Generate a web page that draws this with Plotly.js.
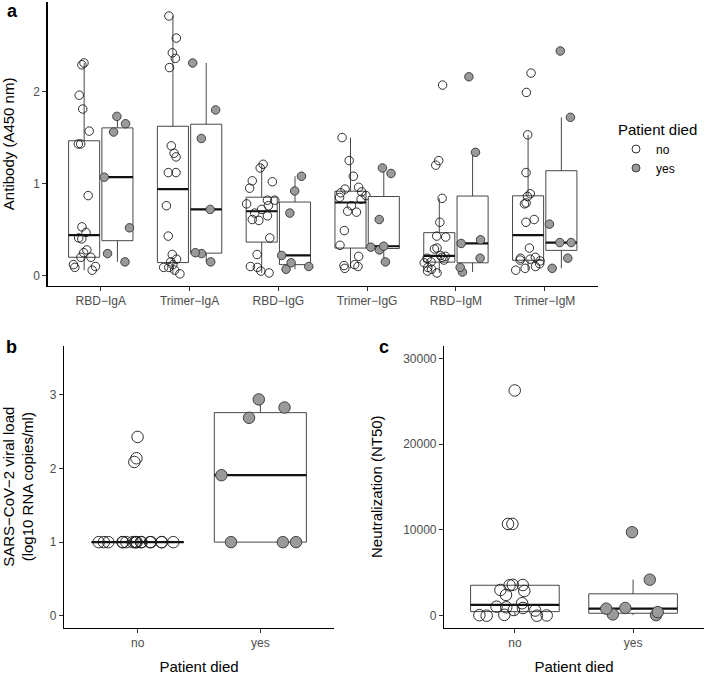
<!DOCTYPE html>
<html>
<head>
<meta charset="utf-8">
<script src="https://cdn.plot.ly/plotly-3.0.1.min.js"></script>
<style>html,body{margin:0;padding:0;background:#fff}#chart{width:705px;height:675px}</style>
</head>
<body>
<div id="chart"></div>
<script>
// ---------- data ----------
const categories = ['RBD\u2212IgA', 'Trimer\u2212IgA', 'RBD\u2212IgG', 'Trimer\u2212IgG', 'RBD\u2212IgM', 'Trimer\u2212IgM'];
const outcomeLabels = ['no', 'yes'];

// Panel a: antibody (A450 nm)
const rbdIgA_no     = [2.31, 2.29, 1.96, 1.81, 1.57, 1.43, 1.43, 0.87, 0.53, 0.47, 0.41, 0.40, 0.28, 0.25, 0.20, 0.20, 0.12, 0.10, 0.09, 0.06];
const rbdIgA_yes    = [1.73, 1.65, 1.56, 1.07, 0.52, 0.24, 0.15];
const trimerIgA_no  = [2.82, 2.58, 2.42, 2.36, 2.26, 1.41, 1.33, 1.29, 1.12, 1.12, 0.76, 0.43, 0.23, 0.18, 0.15, 0.12, 0.09, 0.09, 0.06, 0.02];
const trimerIgA_yes = [2.31, 1.80, 1.49, 0.72, 0.25, 0.24, 0.15];
const rbdIgG_no     = [1.21, 1.17, 1.03, 1.02, 0.95, 0.82, 0.82, 0.78, 0.76, 0.72, 0.68, 0.65, 0.61, 0.60, 0.41, 0.23, 0.10, 0.09, 0.05, 0.03];
const rbdIgG_yes    = [1.08, 0.92, 0.68, 0.22, 0.14, 0.10, 0.07];
const trimerIgG_no  = [1.50, 1.25, 1.08, 0.96, 0.94, 0.91, 0.90, 0.87, 0.85, 0.83, 0.76, 0.70, 0.69, 0.49, 0.33, 0.21, 0.12, 0.11, 0.10, 0.08];
const trimerIgG_yes = [1.17, 1.11, 0.61, 0.32, 0.31, 0.28, 0.15];
const rbdIgM_no     = [2.07, 1.25, 1.20, 0.84, 0.58, 0.43, 0.42, 0.30, 0.29, 0.22, 0.21, 0.20, 0.19, 0.17, 0.15, 0.14, 0.09, 0.07, 0.05, 0.03];
const rbdIgM_yes    = [2.16, 1.34, 0.39, 0.35, 0.19, 0.09, 0.04];
const trimerIgM_no  = [2.20, 1.99, 1.53, 1.12, 0.89, 0.86, 0.79, 0.78, 0.61, 0.58, 0.30, 0.20, 0.19, 0.18, 0.17, 0.16, 0.13, 0.10, 0.08, 0.06];
const trimerIgM_yes = [2.44, 1.72, 0.56, 0.36, 0.36, 0.19, 0.08];

// Panel b: viral load (log10 RNA copies/ml)
const viralLoad_no  = [2.43, 2.14, 2.09, 1, 1, 1, 1, 1, 1, 1, 1, 1, 1, 1, 1, 1, 1, 1, 1, 1];
const viralLoad_yes = [2.94, 2.83, 2.69, 1.91, 1, 1, 1];

// Panel c: neutralization (NT50)
const nt50_no  = [26260, 10700, 10700, 3600, 3580, 3540, 3000, 2880, 2420, 1450, 1050, 980, 900, 660, 600, 100, 60, 30, 0, 0];
const nt50_yes = [9730, 4200, 900, 820, 420, 150, 60];

// ---------- helpers ----------
const antibodyNo  = [rbdIgA_no, trimerIgA_no, rbdIgG_no, trimerIgG_no, rbdIgM_no, trimerIgM_no];
const antibodyYes = [rbdIgA_yes, trimerIgA_yes, rbdIgG_yes, trimerIgG_yes, rbdIgM_yes, trimerIgM_yes];

function q7(sorted, p) {
  const h = (sorted.length - 1) * p, lo = Math.floor(h), hi = Math.ceil(h);
  return sorted[lo] + (h - lo) * (sorted[hi] - sorted[lo]);
}
function boxStats(values) {
  const s = values.slice().sort((a, b) => a - b);
  const q1 = q7(s, 0.25), med = q7(s, 0.5), q3 = q7(s, 0.75), iqr = q3 - q1;
  const lf = Math.min(...s.filter(v => v >= q1 - 1.5 * iqr));
  const uf = Math.max(...s.filter(v => v <= q3 + 1.5 * iqr));
  return {q1, med, q3, lf, uf};
}

const FONT = 'Liberation Sans, Arial, Helvetica, sans-serif';
const styleNo  = {symbol: 'circle', color: 'rgba(255,255,255,0)', line: {color: '#1a1a1a', width: 0.9}};
const styleYes = {symbol: 'circle', color: '#9a9a9a', line: {color: '#333333', width: 0.9}};

const traces = [];
function addGroup(sets, positions, width, style, size, xa, ya) {
  const st = sets.map(boxStats);
  traces.push({
    type: 'box', x: positions, xaxis: xa, yaxis: ya,
    q1: st.map(s => s.q1), median: st.map(s => s.med), q3: st.map(s => s.q3),
    lowerfence: st.map(s => s.lf), upperfence: st.map(s => s.uf),
    width: width, boxpoints: false, whiskerwidth: 0,
    fillcolor: 'white', line: {color: '#333333', width: 0.9},
    showlegend: false, hoverinfo: 'skip'
  });
  // thicker median (ggplot style)
  traces.push({
    type: 'box', x: positions, xaxis: xa, yaxis: ya,
    q1: st.map(s => s.med), median: st.map(s => s.med), q3: st.map(s => s.med),
    lowerfence: st.map(s => s.med), upperfence: st.map(s => s.med),
    width: width, boxpoints: false, whiskerwidth: 0,
    fillcolor: 'rgba(0,0,0,0)', line: {color: '#111111', width: 2.2},
    showlegend: false, hoverinfo: 'skip'
  });
  const xs = [], ys = [];
  sets.forEach((vals, i) => vals.forEach(v => { xs.push(positions[i]); ys.push(v); }));
  traces.push({
    type: 'box', x: xs, y: ys, xaxis: xa, yaxis: ya,
    width: width, boxpoints: 'all', jitter: 1, pointpos: 0,
    fillcolor: 'rgba(0,0,0,0)', line: {color: 'rgba(0,0,0,0)', width: 0},
    marker: {symbol: style.symbol, color: style.color, size: size, line: style.line},
    showlegend: false, hoverinfo: 'y'
  });
}

const catIdx = categories.map((c, i) => i);
const dodge = 0.1875;
addGroup(antibodyNo,  catIdx.map(i => i - dodge), 0.35, styleNo, 8.5, 'x', 'y');
addGroup(antibodyYes, catIdx.map(i => i + dodge), 0.35, styleYes, 8.5, 'x', 'y');
addGroup([viralLoad_no],  [0], 0.75, styleNo, 11.5, 'x2', 'y2');
addGroup([viralLoad_yes], [1], 0.75, styleYes, 11.5, 'x2', 'y2');
addGroup([nt50_no],  [0], 0.75, styleNo, 11.5, 'x3', 'y3');
addGroup([nt50_yes], [1], 0.75, styleYes, 11.5, 'x3', 'y3');

// legend entries
outcomeLabels.forEach((lab, i) => {
  const st = i === 0 ? styleNo : styleYes;
  traces.push({type: 'scatter', mode: 'markers', x: [null], y: [null], name: lab,
    marker: {symbol: 'circle', size: 8, color: st.color, line: st.line},
    xaxis: 'x', yaxis: 'y', showlegend: true, hoverinfo: 'skip'});
});

const W = 705, H = 675;
const axisCommon = {
  showline: true, linecolor: '#000', linewidth: 1.1, mirror: false,
  ticks: 'outside', ticklen: 4, tickwidth: 1, tickcolor: '#333',
  showgrid: false, zeroline: false, automargin: false, fixedrange: true,
  tickfont: {family: FONT, size: 12, color: '#4d4d4d'}
};
const titleFont = {family: FONT, size: 15, color: '#000'};

const layout = {
  width: W, height: H,
  margin: {l: 0, r: 0, t: 0, b: 0},
  paper_bgcolor: '#fff', plot_bgcolor: 'rgba(0,0,0,0)',
  font: {family: FONT, color: '#000'},
  showlegend: true,
  legend: {
    x: 616 / W, y: 1 - 115 / H, xanchor: 'left', yanchor: 'top',
    title: {text: 'Patient died', font: {family: FONT, size: 15, color: '#000'}},
    font: {family: FONT, size: 12, color: '#000'},
    bgcolor: 'rgba(0,0,0,0)', itemsizing: 'trace', tracegroupgap: 0
  },
  xaxis: Object.assign({}, axisCommon, {
    domain: [47.5 / W, 598 / W], range: [-0.6, 5.6],
    tickmode: 'array', tickvals: catIdx, ticktext: categories, anchor: 'y'
  }),
  yaxis: Object.assign({}, axisCommon, {
    domain: [1 - 285.7 / H, 1 - 2 / H], range: [-0.1086, 2.972],
    tickmode: 'array', tickvals: [0, 1, 2], anchor: 'x',
    title: {text: 'Antibody (A450 nm)', font: titleFont, standoff: 17}
  }),
  xaxis2: Object.assign({}, axisCommon, {
    domain: [64 / W, 334 / W], range: [-0.6, 1.6],
    tickmode: 'array', tickvals: [0, 1], ticktext: outcomeLabels, anchor: 'y2',
    title: {text: 'Patient died', font: titleFont, standoff: 17}
  }),
  yaxis2: Object.assign({}, axisCommon, {
    domain: [1 - 627.7 / H, 1 - 345.7 / H], range: [-0.163, 3.67],
    tickmode: 'array', tickvals: [0, 1, 2, 3], anchor: 'x2',
    title: {text: 'SARS\u2212CoV\u22122 viral load<br>(log10 RNA copies/ml)', font: titleFont, standoff: 16}
  }),
  xaxis3: Object.assign({}, axisCommon, {
    domain: [444 / W, 704 / W], range: [-0.6, 1.6],
    tickmode: 'array', tickvals: [0, 1], ticktext: outcomeLabels, anchor: 'y3',
    title: {text: 'Patient died', font: titleFont, standoff: 17}
  }),
  yaxis3: Object.assign({}, axisCommon, {
    domain: [1 - 627.7 / H, 1 - 345.7 / H], range: [-1400, 31480],
    tickmode: 'array', tickvals: [0, 10000, 20000, 30000], tickformat: 'd', anchor: 'x3',
    title: {text: 'Neutralization (NT50)', font: titleFont, standoff: 16}
  }),
  annotations: [
    {text: 'a', x: 12 / W, y: 1, yanchor: 'top'},
    {text: 'b', x: 11.5 / W, y: 1 - 347 / H, yanchor: 'middle'},
    {text: 'c', x: 384 / W, y: 1 - 347 / H, yanchor: 'middle'}
  ].map(a => Object.assign(a, {xref: 'paper', yref: 'paper', xanchor: 'center', borderpad: 0,
      showarrow: false, font: {family: FONT, size: 18, color: '#000', weight: 'bold'}}))
};

Plotly.newPlot('chart', traces, layout, {displayModeBar: false, staticPlot: true});
</script>
</body>
</html>
